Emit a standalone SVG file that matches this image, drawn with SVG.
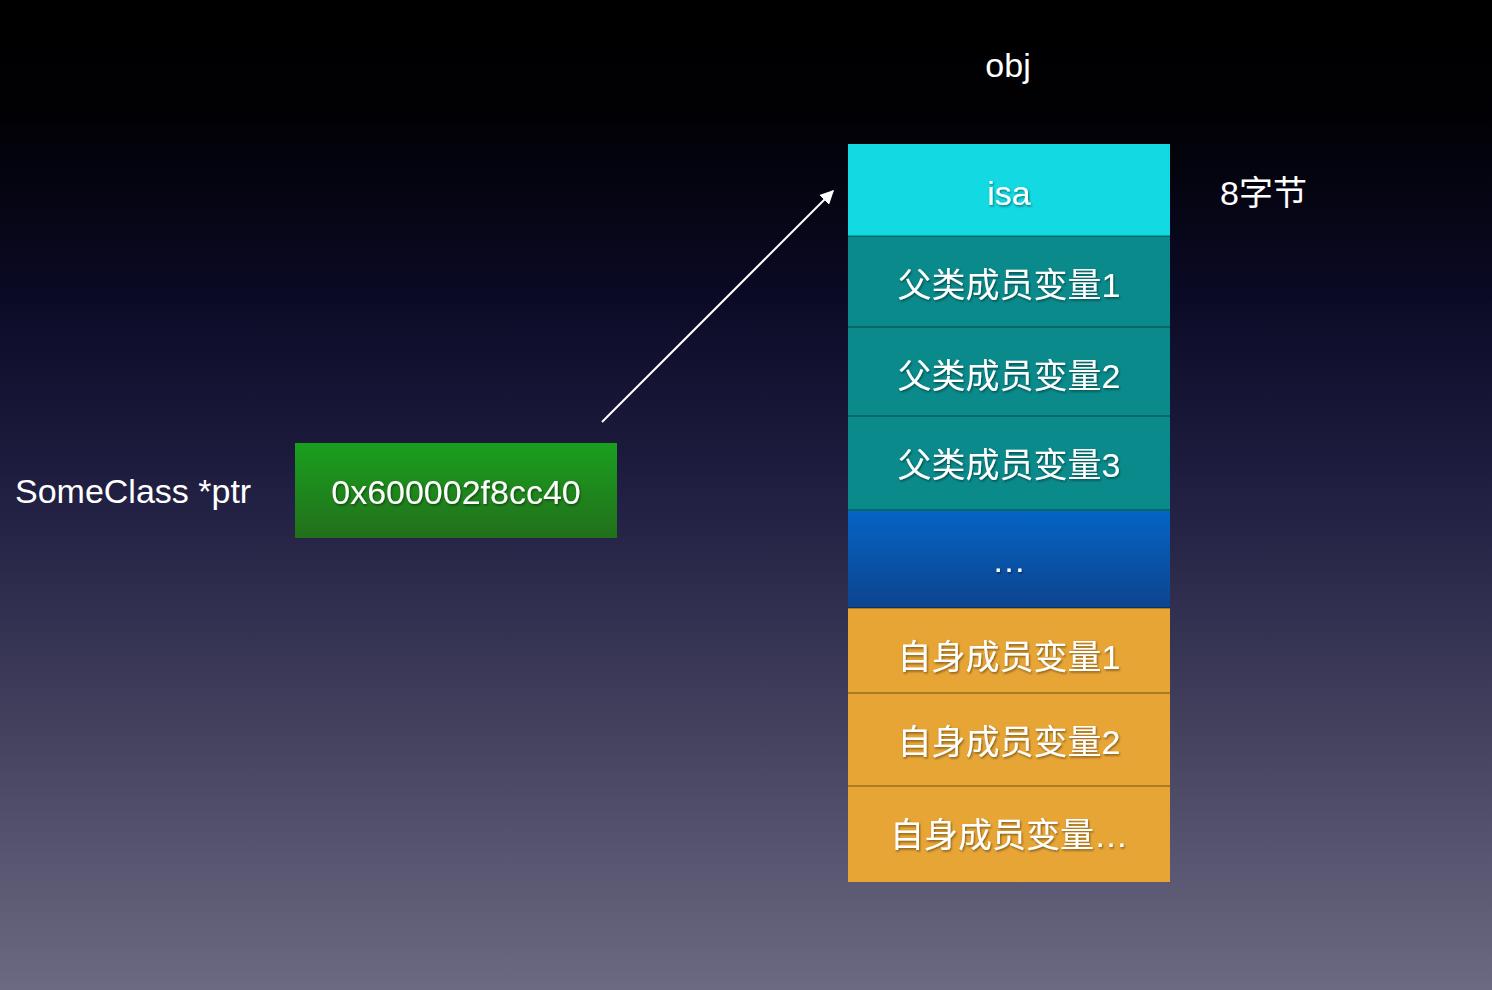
<svg xmlns="http://www.w3.org/2000/svg" width="1492" height="990" viewBox="0 0 1492 990">
<defs>
<linearGradient id="bg" x1="0" y1="0" x2="0" y2="1">
<stop offset="0" stop-color="#000000"/>
<stop offset="0.12" stop-color="#010105"/>
<stop offset="0.3" stop-color="#0b0a26"/>
<stop offset="0.5" stop-color="#211f42"/>
<stop offset="0.75" stop-color="#45435f"/>
<stop offset="1" stop-color="#6c6a82"/>
</linearGradient>
<linearGradient id="green" x1="0" y1="0" x2="0" y2="1">
<stop offset="0" stop-color="#1a9f1f"/>
<stop offset="1" stop-color="#22701a"/>
</linearGradient>
<linearGradient id="blue" x1="0" y1="0" x2="0" y2="1">
<stop offset="0" stop-color="#0564c4"/>
<stop offset="1" stop-color="#0c448e"/>
</linearGradient>
<filter id="ts" x="-10%" y="-20%" width="120%" height="140%">
<feDropShadow dx="1" dy="1.5" stdDeviation="1" flood-color="#000" flood-opacity="0.45"/>
</filter>
<marker id="ah" viewBox="0 0 10 10" refX="9" refY="5" markerWidth="7" markerHeight="7" orient="auto" markerUnits="strokeWidth">
<path d="M0,0 L10,5 L0,10 z" fill="#ffffff"/>
</marker>
</defs>
<style>
.t{font-family:"Liberation Sans","Noto Sans CJK SC",sans-serif;font-size:34px;fill:#ffffff}
.c{text-anchor:middle}
.sep{stroke:#000;stroke-opacity:0.25;stroke-width:2}
</style>
<rect x="0" y="0" width="1492" height="990" fill="url(#bg)"/>
<g id="label-obj"><text class="t c" x="1008" y="77">obj</text></g>
<g id="label-ptr"><text class="t" x="15" y="503">SomeClass *ptr</text></g>
<g id="label-8bytes"><text class="t" x="1220" y="205">8字节</text></g>
<g id="ptr-box">
<rect x="295" y="443" width="322" height="95" fill="url(#green)"/>
<text class="t c" x="456" y="504" filter="url(#ts)">0x600002f8cc40</text>
</g>
<g id="obj">
<g id="cell-isa"><rect x="848" y="144" width="322" height="92" fill="#12d9e2"/><text class="t c" x="1009" y="205" filter="url(#ts)">isa</text></g>
<g id="cell-p1"><rect x="848" y="236" width="322" height="91" fill="#0a8a8b"/><text class="t c" x="1009" y="297" filter="url(#ts)">父类成员变量1</text></g>
<g id="cell-p2"><rect x="848" y="327" width="322" height="89" fill="#0a8a8b"/><text class="t c" x="1009" y="388" filter="url(#ts)">父类成员变量2</text></g>
<g id="cell-p3"><rect x="848" y="416" width="322" height="95" fill="#0a8a8b"/><text class="t c" x="1009" y="477" filter="url(#ts)">父类成员变量3</text></g>
<g id="cell-dots"><rect x="848" y="511" width="322" height="97" fill="url(#blue)"/><text class="t c" x="1009" y="572" filter="url(#ts)">…</text></g>
<g id="cell-s1"><rect x="848" y="608" width="322" height="85" fill="#e7a535"/><text class="t c" x="1009" y="669" filter="url(#ts)">自身成员变量1</text></g>
<g id="cell-s2"><rect x="848" y="693" width="322" height="93" fill="#e7a535"/><text class="t c" x="1009" y="754" filter="url(#ts)">自身成员变量2</text></g>
<g id="cell-s3"><rect x="848" y="786" width="322" height="96" fill="#e7a535"/><text class="t c" x="1009" y="847" filter="url(#ts)">自身成员变量…</text></g>
<line class="sep" x1="848" y1="236" x2="1170" y2="236"/>
<line class="sep" x1="848" y1="327" x2="1170" y2="327"/>
<line class="sep" x1="848" y1="416" x2="1170" y2="416"/>
<line class="sep" x1="848" y1="510" x2="1170" y2="510"/>
<line class="sep" x1="848" y1="608" x2="1170" y2="608"/>
<line class="sep" x1="848" y1="693" x2="1170" y2="693"/>
<line class="sep" x1="848" y1="786" x2="1170" y2="786"/>
</g>
<g id="connectors">
<line x1="602" y1="422" x2="833" y2="191" stroke="#ffffff" stroke-width="2" marker-end="url(#ah)"/>
</g>
</svg>
